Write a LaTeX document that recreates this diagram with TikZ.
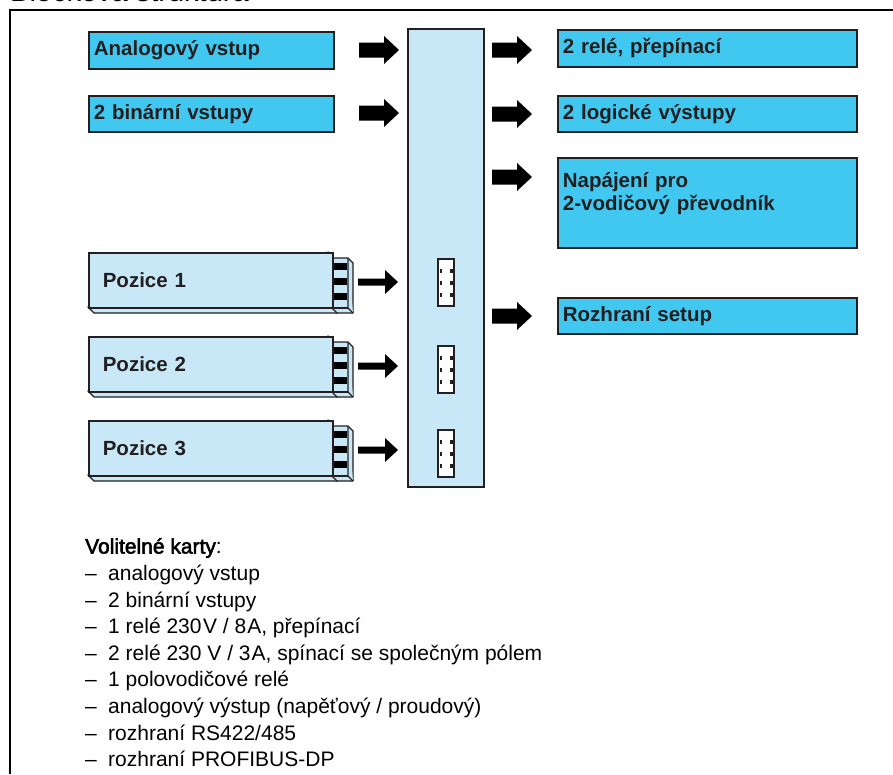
\documentclass[tikz,border=0pt]{standalone}
\usepackage{fontspec}
\setmainfont{Liberation Sans}
\newfontfamily\fbfont[FakeBold=2.5]{Liberation Sans}
\definecolor{cyanbox}{RGB}{64,200,240}
\definecolor{lightbox}{RGB}{200,232,248}
\definecolor{ink}{RGB}{35,31,32}
\tikzset{
  bluebox/.style={draw=ink, line width=1.8pt, fill=cyanbox, anchor=north west, inner xsep=5pt, inner ysep=0pt,
    text=ink, align=left, font=\fontsize{20.5}{23}\selectfont\bfseries, text width=#1},
  busbox/.style={draw=ink, line width=1.8pt, fill=lightbox},
  cardface/.style={draw=ink, line width=1.6pt, fill=lightbox, anchor=north west, inner xsep=14pt, inner ysep=0pt,
    minimum width=244pt, minimum height=55pt, text width=216pt, align=left, text=ink,
    font=\fontsize{20.5}{23}\selectfont\bfseries},
  cardline/.style={draw=ink, line width=1.4pt, fill=lightbox, line join=round},
  listtext/.style={anchor=base west, inner sep=0pt, font=\fontsize{21}{24}\selectfont},
}
% fat black arrow: start x, centre y, length
\newcommand\fatarrow[3]{%
  \fill[black] (#1,#2-7.5) -- (#1+#3-15,#2-7.5) -- (#1+#3-15,#2-14) -- (#1+#3,#2)
    -- (#1+#3-15,#2+14) -- (#1+#3-15,#2+7.5) -- (#1,#2+7.5) -- cycle;}
\newcommand\thinarrow[3]{%
  \fill[black] (#1,#2-3.5) -- (#1+#3-13,#2-3.5) -- (#1+#3-13,#2-12) -- (#1+#3,#2)
    -- (#1+#3-13,#2+12) -- (#1+#3-13,#2+3.5) -- (#1,#2+3.5) -- cycle;}
\begin{document}
\begin{tikzpicture}[x=1pt,y=-1pt]
\useasboundingbox (0,0) rectangle (893,774);
\begin{scope}
  \clip (0,0) rectangle (893,774);
  \node[anchor=base west, inner sep=0pt, font=\fontsize{29}{32}\selectfont] (title) at (10,1.5) {Blocková struktura};
\end{scope}
% frame
\draw[line width=2pt] (10,774) -- (10,10) -- (893,10);

% central bus
\draw[busbox] (408,29) rectangle (484,487);

% left input boxes
\node[bluebox=235pt, minimum width=245pt, minimum height=37pt] (ain) at (88,31) {Analogový vstup};
\node[bluebox=235pt, minimum width=245pt, minimum height=36pt] (bin) at (88,95) {2 binární vstupy};

% right output boxes
\node[bluebox=289pt, minimum width=299pt, minimum height=37pt] (rel) at (557,29) {2 relé, přepínací};
\node[bluebox=289pt, minimum width=299pt, minimum height=36pt] (log) at (557,95) {2 logické výstupy};
\node[bluebox=289pt, minimum width=299pt, minimum height=90pt] (nap) at (557,157) {Napájení pro\\2-vodičový převodník\\\mbox{}};
\node[bluebox=289pt, minimum width=299pt, minimum height=36pt] (set) at (557,297) {Rozhraní setup};

% fat arrows
\fatarrow{359}{50}{40}
\fatarrow{359}{113}{40}
\fatarrow{492}{50}{40}
\fatarrow{492}{114}{40}
\fatarrow{492}{177}{40}
\fatarrow{492}{316}{40}

% option cards
\foreach \i/\t/\s in {1/252/259, 2/336/346, 3/420/430}{
  % card thickness strip
  \draw[cardline] (88,\t+55) -- (94,\t+61) -- (338,\t+61) -- (332,\t+55) -- cycle;
  % connector
  \draw[cardline] (328,\t) -- (333,\t+6) -- (348,\t+6) -- (353,\t+11) -- (353,\t+61) -- (337,\t+61) -- (332,\t+56) -- cycle;
  \draw[cardline] (348,\t+6) -- (348,\t+56) -- (353,\t+61);
  \draw[cardline] (332,\t+56) -- (348,\t+56);
  \node[cardface] (p\i) at (88,\t) {Pozice \i};
  \fill[black] (334,\t+11) rectangle (347,\t+18);
  \fill[black] (334,\t+26) rectangle (347,\t+33);
  \fill[black] (334,\t+41) rectangle (347,\t+48);
  % arrow to bus
  \thinarrow{358}{\t+30}{40}
  % socket in bus
  \draw[draw=ink, line width=2pt, fill=white] (438,\s) rectangle (454,\s+47);
  \foreach \k in {10,22,34}{
    \fill[ink] (439.5,\s+\k) rectangle (442,\s+\k+4);
    \fill[ink] (450,\s+\k) rectangle (452.5,\s+\k+4);
  }
}

% list of optional cards
\node[listtext] (vk) at (85,553.5) {{\fbfont Volitelné karty}:};
\foreach \k/\txt in {0/{analogový vstup}, 1/{2 binární vstupy}, 2/{1 relé 230\kern1.5pt V / 8\kern1pt A, přepínací},
  3/{2 relé 230 V / 3\kern1pt A, spínací se společným pólem}, 4/{1 polovodičové relé},
  5/{analogový výstup (napěťový / proudový)}, 6/{rozhraní RS422/485}, 7/{rozhraní PROFIBUS-DP}}{
  \node[listtext] (d\k) at (85,580.5+26.6*\k) {–};
  \node[listtext] (l\k) at (108,580.5+26.6*\k) {\txt};
}
\end{tikzpicture}
\end{document}
